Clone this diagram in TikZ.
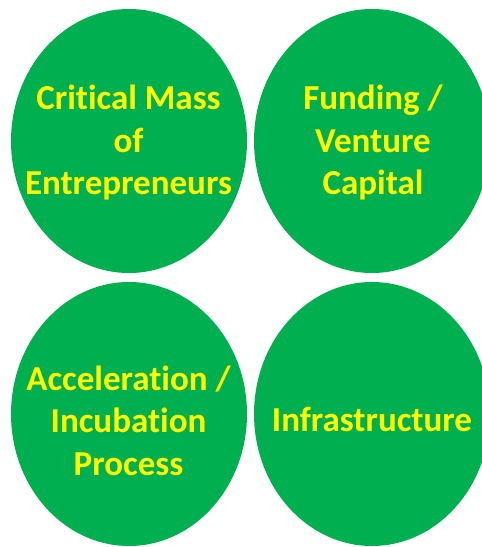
\documentclass[tikz,border=0pt]{standalone}
\usepackage{fontspec}
\setmainfont{Carlito}[Ligatures={NoCommon}]

\definecolor{ovalgreen}{HTML}{00B050}
\definecolor{labelyellow}{HTML}{FFFF00}

\usetikzlibrary{shapes.geometric}

\begin{document}
\begin{tikzpicture}[
  x=1pt, y=-1pt,
  oval/.style={ellipse, fill=ovalgreen, draw=none, inner sep=0pt,
    minimum width=236pt, minimum height=264pt},
  label/.style={text=labelyellow, align=center, inner sep=0pt,
    font=\fontsize{35}{42.5}\selectfont\bfseries}
]

\clip (0,0) rectangle (482,547);

%================================================
% TOP ROW
%================================================
\node[oval] (mass) at (129,141) {};
\node[oval] (fund) at (372,141) {};

\node[label] (massText) at (128.5,142.5) {Critical Mass\\of\\Entrepreneurs};
\node[label] (fundText) at (373,142.5) {Funding /\\Venture\\Capital};

%================================================
% BOTTOM ROW
%================================================
\node[oval] (accel) at (129,414) {};
\node[oval] (infra) at (372,414) {};

\node[label] (accelText) at (128.5,420.5) {Acceleration /\\Incubation\\Process};
\node[label] (infraText) at (372,419.5) {Infrastructure};

\end{tikzpicture}
\end{document}
